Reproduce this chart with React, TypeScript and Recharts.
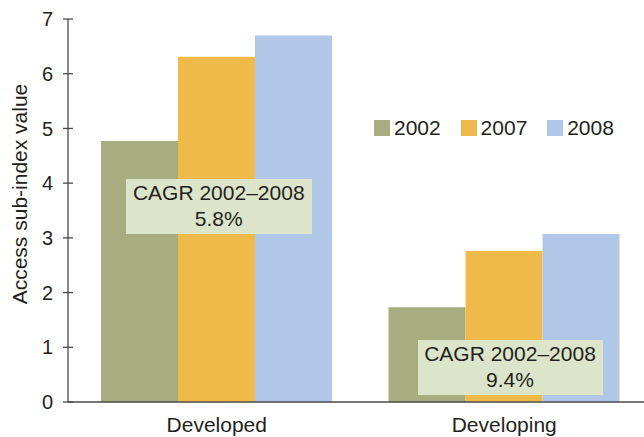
import React from 'react';
import { BarChart, Bar, XAxis, YAxis, Legend } from 'recharts';

const categories = ['Developed', 'Developing'];
const values2002 = [4.77, 1.73];
const values2007 = [6.31, 2.76];
const values2008 = [6.7, 3.07];
const seriesYears = ['2002', '2007', '2008'];
const yTicks = [0, 1, 2, 3, 4, 5, 6, 7];
const cagrTitle = 'CAGR 2002\u20132008';
const cagrValues = ['5.8%', '9.4%'];

const data = categories.map((c, i) => ({
  name: c,
  y2002: values2002[i],
  y2007: values2007[i],
  y2008: values2008[i],
}));

const colors = ['#a7ad7e', '#f0ba4a', '#b0c7e7'];
const boxFill = '#dce4ca';
const textColor = '#231f20';
const axisColor = '#4a4a4a';
const fontFamily = '"Liberation Sans", Arial, Helvetica, sans-serif';

const YTick = (props: any) => {
  const { x, y, payload } = props;
  return (
    <g>
      <line x1={x + 10} x2={x + 20} y1={y} y2={y} stroke={axisColor} strokeWidth={1.3} />
      <text x={x} y={y} dy="0.355em" textAnchor="end" fill={textColor} fontSize={20} fontFamily={fontFamily}>
        {payload.value}
      </text>
    </g>
  );
};

const renderLegend = (props: any) => {
  const { payload } = props;
  return (
    <div style={{ display: 'flex', alignItems: 'center', fontFamily, fontSize: 21, color: textColor }}>
      {(payload || []).map((p: any) => (
        <div key={p.value} style={{ display: 'flex', alignItems: 'center', width: 86.6 }}>
          <span style={{ display: 'inline-block', width: 16, height: 16, background: p.color, marginRight: 4 }} />
          <span>{p.value}</span>
        </div>
      ))}
    </div>
  );
};

const boxes = [
  { left: 126, top: 178.5, width: 185.5, height: 55 },
  { left: 417.5, top: 339.5, width: 185, height: 55 },
];

export default function App() {
  return (
    <div style={{ position: 'relative', width: 652, height: 437 }}>
      <style>{`body{margin:0;overflow:hidden}`}</style>
      <BarChart
        width={652}
        height={437}
        data={data}
        margin={{ top: 19, right: 4, bottom: 0, left: 0 }}
        barCategoryGap={28}
        barGap={0}
      >
        <XAxis
          dataKey="name"
          height={35}
          padding={{ left: 5, right: 0 }}
          tickLine={false}
          tickSize={0}
          tickMargin={15}
          axisLine={{ stroke: axisColor, strokeWidth: 1.3 }}
          tick={{ fill: textColor, fontSize: 21, fontFamily }}
        />
        <YAxis
          width={68}
          domain={[0, 7]}
          ticks={yTicks}
          interval={0}
          tickLine={false}
          tickSize={0}
          tickMargin={15}
          axisLine={{ stroke: axisColor, strokeWidth: 1.3 }}
          tick={<YTick />}
          label={{
            content: () => (
              <text
                x={26.5}
                y={194}
                transform="rotate(-90, 26.5, 194)"
                textAnchor="middle"
                fill={textColor}
                fontSize={21}
                fontFamily={fontFamily}
              >
                Access sub-index value
              </text>
            ),
          }}
        />
        <Legend
          layout="horizontal"
          verticalAlign="middle"
          align="center"
          content={renderLegend}
          wrapperStyle={{ top: 116, left: 374, width: 270, height: 24 }}
        />
        <Bar dataKey="y2002" name={seriesYears[0]} fill={colors[0]} isAnimationActive={false} />
        <Bar dataKey="y2007" name={seriesYears[1]} fill={colors[1]} isAnimationActive={false} />
        <Bar dataKey="y2008" name={seriesYears[2]} fill={colors[2]} isAnimationActive={false} />
      </BarChart>
      {boxes.map((b, i) => (
        <div
          key={i}
          style={{
            position: 'absolute',
            left: b.left,
            top: b.top,
            width: b.width,
            height: b.height,
            background: boxFill,
            boxSizing: 'border-box',
            paddingTop: 1.4,
            textAlign: 'center',
            fontFamily,
            fontSize: 21,
            lineHeight: '25.7px',
            color: textColor,
            zIndex: 2,
          }}
        >
          <div>{cagrTitle}</div>
          <div>{cagrValues[i]}</div>
        </div>
      ))}
    </div>
  );
}
